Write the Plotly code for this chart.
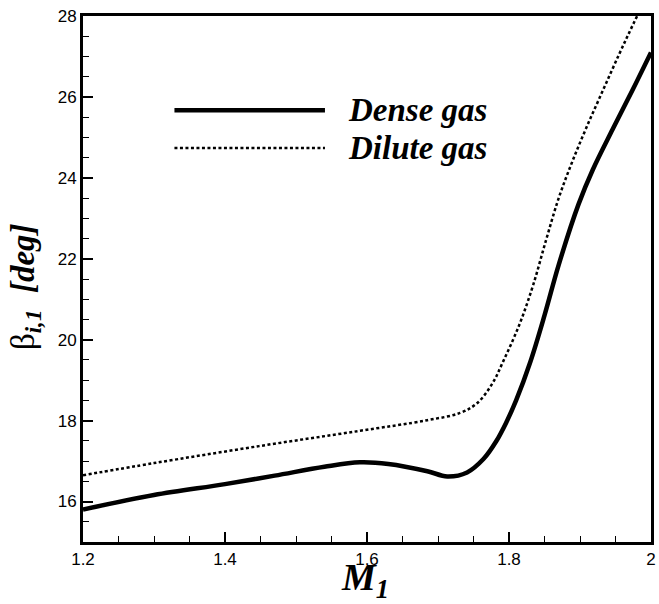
import plotly.graph_objects as go

# Data
dense_x = [1.2, 1.3, 1.4, 1.47, 1.54, 1.59, 1.63, 1.685, 1.713, 1.741, 1.764, 1.782,
           1.796, 1.81, 1.83, 1.85, 1.87, 1.898, 1.918, 1.946, 1.974, 2.0]
dense_y = [15.8, 16.16, 16.43, 16.64, 16.86, 16.97, 16.93, 16.75, 16.62, 16.72, 17.05, 17.49,
           17.95, 18.5, 19.45, 20.6, 21.85, 23.35, 24.2, 25.2, 26.17, 27.1]

dilute_x = [1.2, 1.3, 1.448, 1.587, 1.685, 1.731, 1.755, 1.776, 1.792, 1.815, 1.834,
            1.852, 1.87, 1.888, 1.908, 1.932, 1.955, 1.975, 2.0]
dilute_y = [16.65, 16.95, 17.37, 17.74, 18.01, 18.19, 18.43, 18.9, 19.47, 20.39, 21.35,
            22.45, 23.5, 24.35, 25.2, 26.15, 27.05, 27.8, 28.7]

legend_names = ["Dense gas", "Dilute gas"]

x_ticks = [1.2, 1.4, 1.6, 1.8, 2.0]
x_tick_labels = ["1.2", "1.4", "1.6", "1.8", "2"]
y_ticks = [16, 18, 20, 22, 24, 26, 28]

dot_dash = "3px,2.5px"

fig = go.Figure()
fig.add_trace(go.Scatter(x=dense_x, y=dense_y, mode="lines", name=legend_names[0],
                         line=dict(color="black", width=4.5, shape="spline", smoothing=1.0)))
fig.add_trace(go.Scatter(x=dilute_x, y=dilute_y, mode="lines", name=legend_names[1],
                         line=dict(color="black", width=2.5, dash=dot_dash, shape="spline", smoothing=1.0)))

serif = "Liberation Serif"
sans = "Liberation Sans"

fig.update_layout(
    width=659, height=604,
    margin=dict(l=83, r=3, t=16, b=62),
    paper_bgcolor="white", plot_bgcolor="white",
    showlegend=False,
    font=dict(family=sans, color="black"),
)

fig.update_xaxes(range=[1.2, 2.0], tickvals=x_ticks, ticktext=x_tick_labels,
                 ticks="inside", ticklen=10, tickwidth=2, tickcolor="black",
                 minor=dict(dtick=0.05, ticks="inside", ticklen=6, tickwidth=1, tickcolor="black"),
                 showline=True, linewidth=3, linecolor="black", mirror=True,
                 showgrid=False, zeroline=False,
                 tickfont=dict(family=sans, size=17, color="black"))
fig.update_yaxes(range=[15, 28], tickvals=y_ticks,
                 ticks="inside", ticklen=10, tickwidth=2, tickcolor="black",
                 minor=dict(dtick=0.5, ticks="inside", ticklen=6, tickwidth=1, tickcolor="black"),
                 showline=True, linewidth=3, linecolor="black", mirror=True,
                 showgrid=False, zeroline=False,
                 tickfont=dict(family=sans, size=17, color="black"))

# Axis titles
fig.add_annotation(xref="paper", yref="paper", x=0.497, y=-0.022, yanchor="top", xanchor="center",
                   showarrow=False,
                   text="<b><i>M</i></b><sub><b><i>1</i></b></sub>",
                   font=dict(family=serif, size=38, color="black"))
fig.add_annotation(xref="paper", yref="paper", x=-0.1, y=0.485, xanchor="center", yanchor="middle",
                   showarrow=False, textangle=-90,
                   text="β<sub><b><i>i,1</i></b></sub><b><i>&nbsp;&nbsp;[deg]</i></b>",
                   font=dict(family=serif, size=33, color="black"))

# Legend drawn manually
leg_y = [0.821, 0.749]
dashes = ["solid", dot_dash]
widths = [4.5, 2.5]
for i in range(2):
    fig.add_shape(type="line", xref="paper", yref="paper",
                  x0=0.161, x1=0.426, y0=leg_y[i], y1=leg_y[i],
                  line=dict(color="black", width=widths[i], dash=dashes[i]))
    fig.add_annotation(xref="paper", yref="paper", x=0.463, y=leg_y[i],
                       xanchor="left", yanchor="middle", showarrow=False,
                       text="<b><i>" + legend_names[i] + "</i></b>",
                       font=dict(family=serif, size=33, color="black"))

fig.write_html("out.html")
